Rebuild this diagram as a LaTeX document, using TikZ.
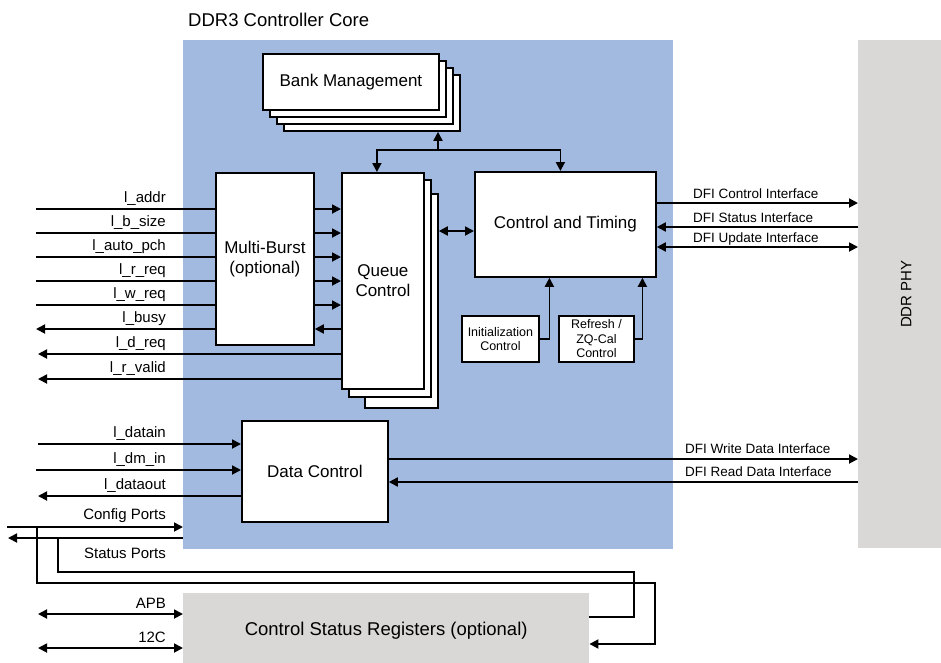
\documentclass[tikz,border=0pt]{standalone}
\usepackage{fontspec}
\setmainfont{Liberation Sans}
\usetikzlibrary{arrows.meta}
\definecolor{coreblue}{RGB}{162,185,224}
\definecolor{phygrey}{RGB}{217,216,214}
\tikzset{
  blk/.style={draw, fill=white, line width=1.8pt, inner sep=0pt, align=center, anchor=north west, font=\fontsize{17}{20}\selectfont},
  sig/.style={line width=1.8pt},
  arr/.style={sig, -{Triangle[length=9pt,width=9pt]}},
  both/.style={sig, {Triangle[length=9pt,width=9pt]}-{Triangle[length=9pt,width=9pt]}},
  lbl/.style={font=\fontsize{15}{18}\selectfont, inner sep=0pt, anchor=base east},
  dfi/.style={font=\fontsize{13.5}{16}\selectfont, inner sep=0pt, anchor=base west},
}

\begin{document}
\begin{tikzpicture}[x=1pt,y=-1pt]
\useasboundingbox (0,0) rectangle (941,662);

\node[fill=coreblue, minimum width=490pt, minimum height=509pt, anchor=north west, inner sep=0pt] (core) at (183,40) {};
\node[anchor=west, inner sep=0pt, font=\fontsize{18.5}{22}\selectfont] (title) at (188,20) {DDR3 Controller Core};
\node[fill=phygrey, minimum width=96pt, minimum height=508pt, anchor=north west, inner sep=0pt] (phy) at (858,40) {};
\node[rotate=90, font=\fontsize{15}{18}\selectfont] (phylbl) at (phy.center) {DDR PHY};
\node[fill=phygrey, minimum width=406pt, minimum height=76pt, anchor=north west, inner sep=0pt, font=\fontsize{18.5}{22}\selectfont] (csr) at (183,593) {Control Status Registers (optional)};

\foreach \d [count=\i] in {21,14,7}
  \node[blk, minimum width=176pt, minimum height=56pt] (bank\i) at (262+\d,53+\d) {};
\node[blk, minimum width=176pt, minimum height=56pt] (bank) at (262,53) {Bank Management};

\node[blk, minimum width=73pt, minimum height=214pt] (qc3) at (364,193) {};
\node[blk, minimum width=82pt, minimum height=217pt] (qc2) at (348,179) {};
\node[blk, minimum width=82pt, minimum height=216pt] (qc) at (341,172) {Queue\\Control};
\node[blk, minimum width=98pt, minimum height=172pt] (mb) at (215,172) {Multi-Burst\\(optional)};
\node[blk, minimum width=181pt, minimum height=105pt] (ct) at (474,171) {Control and Timing};
\node[blk, minimum width=77pt, minimum height=46pt, font=\fontsize{12.5}{14}\selectfont] (init) at (461,315) {Initialization\\Control};
\node[blk, minimum width=75pt, minimum height=46pt, font=\fontsize{12.5}{14.5}\selectfont] (ref) at (558,315) {Refresh /\\ZQ-Cal\\Control};
\node[blk, minimum width=146pt, minimum height=101pt] (dc) at (241,420) {Data Control};

\coordinate (bus) at (438,150);
\draw[arr] (bus) -- (bus |- bank1.south);
\draw[sig] ([xshift=-6pt]qc.north |- bus) -- ([xshift=-5pt]ct.north |- bus);
\draw[arr] (bus) -| ([xshift=-6pt]qc.north);
\draw[arr] (bus) -| ([xshift=-5pt]ct.north);
\draw[both] (qc3.east |- 0,231) -- (ct.west |- 0,231);
\draw[arr] (init.east) -| ([xshift=-16pt]ct.south);
\draw[arr] (ref.east) -| ([xshift=77pt]ct.south);

\foreach \y [count=\i] in {209,233,257,281,305}
  \draw[arr] (mb.east |- 0,\y) -- (qc.west |- 0,\y);
\draw[arr] (qc.west |- 0,329) -- (mb.east |- 0,329);

\foreach \y/\t [count=\i] in {209/l\_addr, 233/l\_b\_size, 257/l\_auto\_pch, 281/l\_r\_req, 305/l\_w\_req} {
  \draw[sig] (36,\y) -- (mb.west |- 0,\y);
  \node[lbl] (in\i) at (166,\y-7) {\t};
}
\draw[arr] (mb.west |- 0,329) -- (36,329);
\node[lbl] (busy) at (166,322) {l\_busy};
\draw[arr] (qc.west |- 0,354) -- (38,354);
\node[lbl] (dreq) at (166,347) {l\_d\_req};
\draw[arr] (qc.west |- 0,379) -- (38,379);
\node[lbl] (rvalid) at (166,372) {l\_r\_valid};

\draw[arr] (38,444) -- (dc.west |- 0,444);
\node[lbl] (datain) at (166,437) {l\_datain};
\draw[arr] (36,470) -- (dc.west |- 0,470);
\node[lbl] (dmin) at (166,463) {l\_dm\_in};
\draw[arr] (dc.west |- 0,496) -- (38,496);
\node[lbl] (dataout) at (166,489) {l\_dataout};

\draw[arr] (7,527) -- (core.west |- 0,527);
\node[lbl] (cfg) at (166,519) {Config Ports};
\draw[arr] (core.west |- 0,538) -- (8,538);
\node[lbl] (stat) at (166,558) {Status Ports};
\draw[arr] (37,527) |- (655,583) |- (csr.east |- 0,644);
\draw[sig] (csr.east |- 0,617) -| (634,572) -| (58,538);

\draw[both] (38,614) -- (csr.west |- 0,614);
\node[lbl] (apb) at (166,608) {APB};
\draw[both] (38,648) -- (csr.west |- 0,648);
\node[lbl] (twoc) at (166,642) {12C};

\draw[arr] (ct.east |- 0,203) -- (phy.west |- 0,203);
\node[dfi] (dfictl) at (693,198) {DFI Control Interface};
\draw[arr] (phy.west |- 0,227) -- (ct.east |- 0,227);
\node[dfi] (dfistat) at (693,222) {DFI Status Interface};
\draw[both] (ct.east |- 0,247) -- (phy.west |- 0,247);
\node[dfi] (dfiupd) at (693,242) {DFI Update Interface};
\draw[arr] (dc.east |- 0,459) -- (phy.west |- 0,459);
\node[dfi] (dfiwr) at (685,453) {DFI Write Data Interface};
\draw[arr] (phy.west |- 0,482) -- (dc.east |- 0,482);
\node[dfi] (dfird) at (685,476) {DFI Read Data Interface};
\end{tikzpicture}
\end{document}
